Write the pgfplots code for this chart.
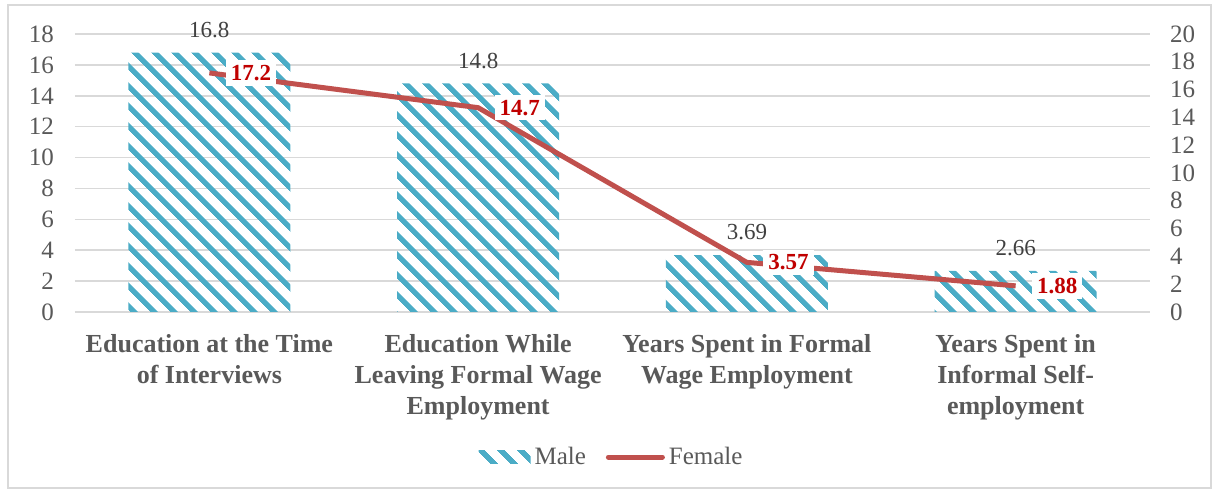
\documentclass[border=0pt]{standalone}
\usepackage{pgfplots}
\pgfplotsset{compat=1.18}
\usepackage{fontspec}
\setmainfont{Liberation Serif}
\usetikzlibrary{patterns.meta}
\definecolor{maleblue}{HTML}{4BACC6}
\definecolor{femred}{HTML}{C0504D}
\definecolor{labred}{HTML}{C00000}
\definecolor{txtgray}{HTML}{595959}
\definecolor{gridgray}{HTML}{D9D9D9}
\definecolor{lblgray}{HTML}{404040}
\tikzset{malepat/.style={pattern={Lines[angle=-45,distance=7.4pt,line width=2.8pt]}, pattern color=maleblue}}
\pgfkeys{/pgf/number format/assume math mode=true}
\begin{document}
\begin{tikzpicture}
\useasboundingbox (-37.5pt,-89.5pt) rectangle (569.5pt,156pt);
\draw[gridgray, line width=0.75pt] (-33.5pt,-88pt) rectangle (568pt,153.5pt);
\begin{axis}[
  at={(0pt,0pt)}, anchor=south west, scale only axis,
  width=537.5pt, height=139pt,
  xmin=-0.5, xmax=3.5, ymin=0, ymax=18,
  xtick={0,1,2,3},
  xticklabels={{Education at the Time\\of Interviews},{Education While\\Leaving Formal Wage\\Employment},{Years Spent in Formal\\Wage Employment},{Years Spent in\\Informal Self-\\employment}},
  xticklabel style={font=\bfseries\fontsize{13}{15.5}\selectfont, text=txtgray, align=center, yshift=-7.5pt},
  ytick={0,2,...,18},
  yticklabel style={font=\fontsize{12.5}{14}\selectfont, text=txtgray, xshift=-7pt},
  ymajorgrids, grid style={gridgray, line width=0.75pt},
  axis line style={draw=none},
  major tick length=0,
  clip=false,
]
\addplot[ybar, bar width=81pt, malepat, draw=none,
  nodes near coords,
  every node near coord/.append style={anchor=south, yshift=4pt, text=lblgray, font=\fontsize{11.5}{13}\selectfont}]
  coordinates {(0,16.8) (1,14.8) (2,3.69) (3,2.66)};
\end{axis}
\begin{axis}[
  at={(0pt,0pt)}, anchor=south west, scale only axis,
  width=537.5pt, height=139pt,
  xmin=-0.5, xmax=3.5, ymin=0, ymax=20,
  axis x line=none, axis y line*=right,
  ytick={0,2,...,20},
  yticklabel style={font=\fontsize{12.5}{14}\selectfont, text=txtgray, xshift=6.5pt},
  axis line style={draw=none},
  major tick length=0,
  clip=false,
  legend columns=2,
  legend style={at={(0.5,-0.5216)}, anchor=center, draw=none, fill=none,
    font=\fontsize{12.5}{14}\selectfont, text=txtgray,
    /tikz/every even column/.append style={column sep=8pt}},
]
\addlegendimage{legend image code/.code={\fill[malepat, draw=none] (0pt,-3.25pt) rectangle (26pt,3.25pt);}}
\addlegendentry{Male}
\addplot[femred, line width=2.5pt, line join=round,
  legend image code/.code={\draw[femred, line width=2.5pt, line cap=round] (0pt,0pt) -- (27pt,0pt);},
  nodes near coords,
  every node near coord/.append style={anchor=west, xshift=7pt, fill=white, text=labred, inner sep=2.5pt, font=\bfseries\fontsize{11.5}{13}\selectfont}]
  coordinates {(0,17.2) (1,14.7) (2,3.57) (3,1.88)};
\addlegendentry{Female}
\end{axis}
\end{tikzpicture}
\end{document}
